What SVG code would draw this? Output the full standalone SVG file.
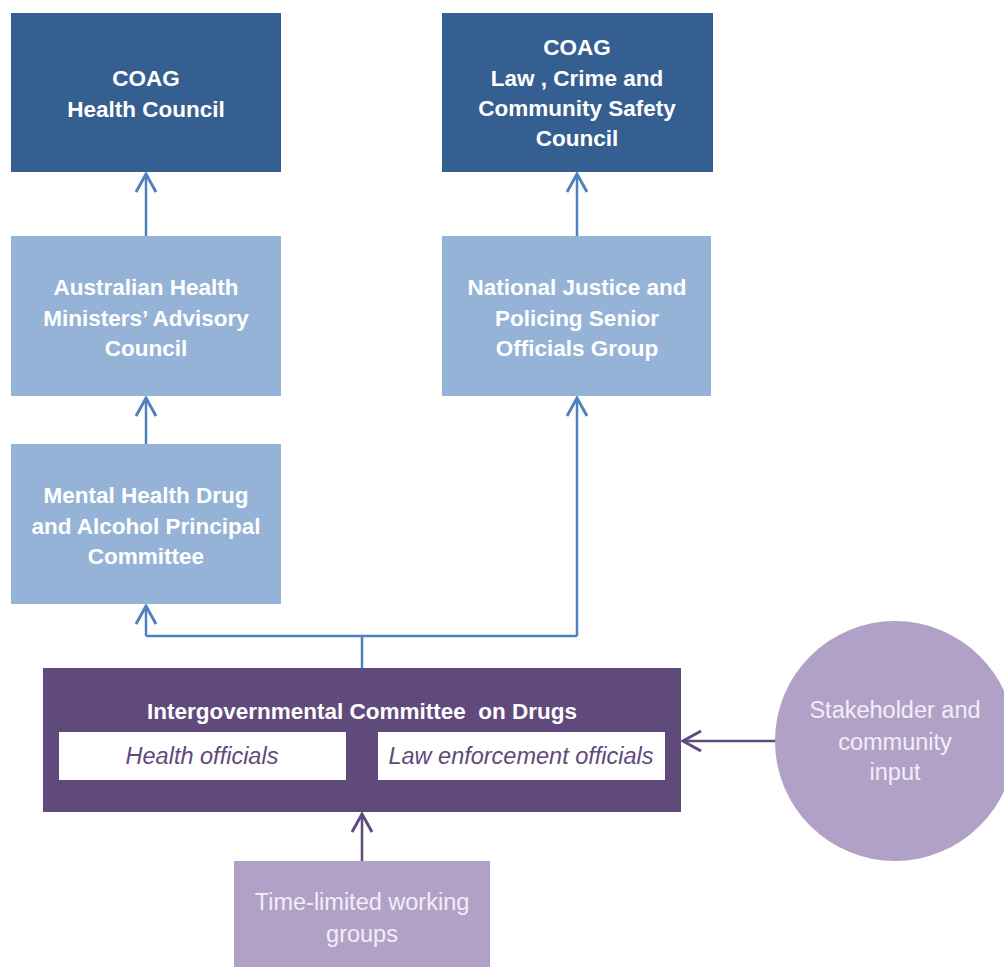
<svg xmlns="http://www.w3.org/2000/svg" width="1004" height="967" viewBox="0 0 1004 967">
<style>
.dark{fill:#365F91}
.light{fill:#95B3D7}
.igc{fill:#604A7B}
.lav{fill:#B2A1C7}
.wb{fill:#ffffff}
.bt{font-family:"Liberation Sans",Arial,sans-serif;font-weight:bold;font-size:22.5px;fill:#ffffff;text-anchor:middle}
.it{font-family:"Liberation Sans",Arial,sans-serif;font-style:italic;font-size:23.5px;fill:#604A7B;text-anchor:middle}
.lt{font-family:"Liberation Sans",Arial,sans-serif;font-size:23.5px;fill:#F2EEF7;text-anchor:middle}
.cb{fill:none;stroke:#4F81BD;stroke-width:2.5}
.cp{fill:none;stroke:#604A7B;stroke-width:2.5}
</style>
<defs>
<marker id="ab" markerWidth="24" markerHeight="24" refX="19" refY="11" orient="auto" markerUnits="userSpaceOnUse">
<path d="M1,1 L19,11 L1,21" fill="none" stroke="#4F81BD" stroke-width="3"/>
</marker>
<marker id="ap" markerWidth="24" markerHeight="24" refX="19" refY="11" orient="auto" markerUnits="userSpaceOnUse">
<path d="M1,1 L19,11 L1,21" fill="none" stroke="#604A7B" stroke-width="3"/>
</marker>
</defs>
<rect width="1004" height="967" fill="#ffffff"/>
<g id="connectors">
<path class="cb" d="M146,236 L146,174" marker-end="url(#ab)"/>
<path class="cb" d="M577,236 L577,174" marker-end="url(#ab)"/>
<path class="cb" d="M146,444 L146,398" marker-end="url(#ab)"/>
<path class="cb" d="M362,668 L362,636"/>
<path class="cb" d="M146,636 L577,636"/>
<path class="cb" d="M146,636 L146,606" marker-end="url(#ab)"/>
<path class="cb" d="M577,636 L577,398" marker-end="url(#ab)"/>
<path class="cp" d="M776,741 L683,741" marker-end="url(#ap)"/>
<path class="cp" d="M362,861 L362,814" marker-end="url(#ap)"/>
</g>
<g id="coag-health">
<rect class="dark" x="11" y="13" width="270" height="159"/>
<text class="bt" x="146" y="86">COAG</text>
<text class="bt" x="146" y="117">Health Council</text>
</g>
<g id="coag-law">
<rect class="dark" x="442" y="13" width="271" height="159"/>
<text class="bt" x="577" y="55">COAG</text>
<text class="bt" x="577" y="86">Law , Crime and</text>
<text class="bt" x="577" y="116">Community Safety</text>
<text class="bt" x="577" y="146">Council</text>
</g>
<g id="ahmac">
<rect class="light" x="11" y="236" width="270" height="160"/>
<text class="bt" x="146" y="295">Australian Health</text>
<text class="bt" x="146" y="326">Ministers’ Advisory</text>
<text class="bt" x="146" y="356">Council</text>
</g>
<g id="njpsog">
<rect class="light" x="442" y="236" width="269" height="160"/>
<text class="bt" x="577" y="295">National Justice and</text>
<text class="bt" x="577" y="326">Policing Senior</text>
<text class="bt" x="577" y="356">Officials Group</text>
</g>
<g id="mhdapc">
<rect class="light" x="11" y="444" width="270" height="160"/>
<text class="bt" x="146" y="503">Mental Health Drug</text>
<text class="bt" x="146" y="534">and Alcohol Principal</text>
<text class="bt" x="146" y="564">Committee</text>
</g>
<g id="igcd">
<rect class="igc" x="43" y="668" width="638" height="144"/>
<text class="bt" x="362" y="719">Intergovernmental Committee &#160;on Drugs</text>
<rect class="wb" x="59" y="732" width="287" height="48"/>
<text class="it" x="202" y="764">Health officials</text>
<rect class="wb" x="378" y="732" width="287" height="48"/>
<text class="it" x="521" y="764">Law enforcement officials</text>
</g>
<g id="stakeholder">
<circle class="lav" cx="895" cy="741" r="120"/>
<text class="lt" x="895" y="718">Stakeholder and</text>
<text class="lt" x="895" y="750">community</text>
<text class="lt" x="895" y="780">input</text>
</g>
<g id="working-groups">
<rect class="lav" x="234" y="861" width="256" height="106"/>
<text class="lt" x="362" y="910">Time-limited working</text>
<text class="lt" x="362" y="942">groups</text>
</g>
</svg>
